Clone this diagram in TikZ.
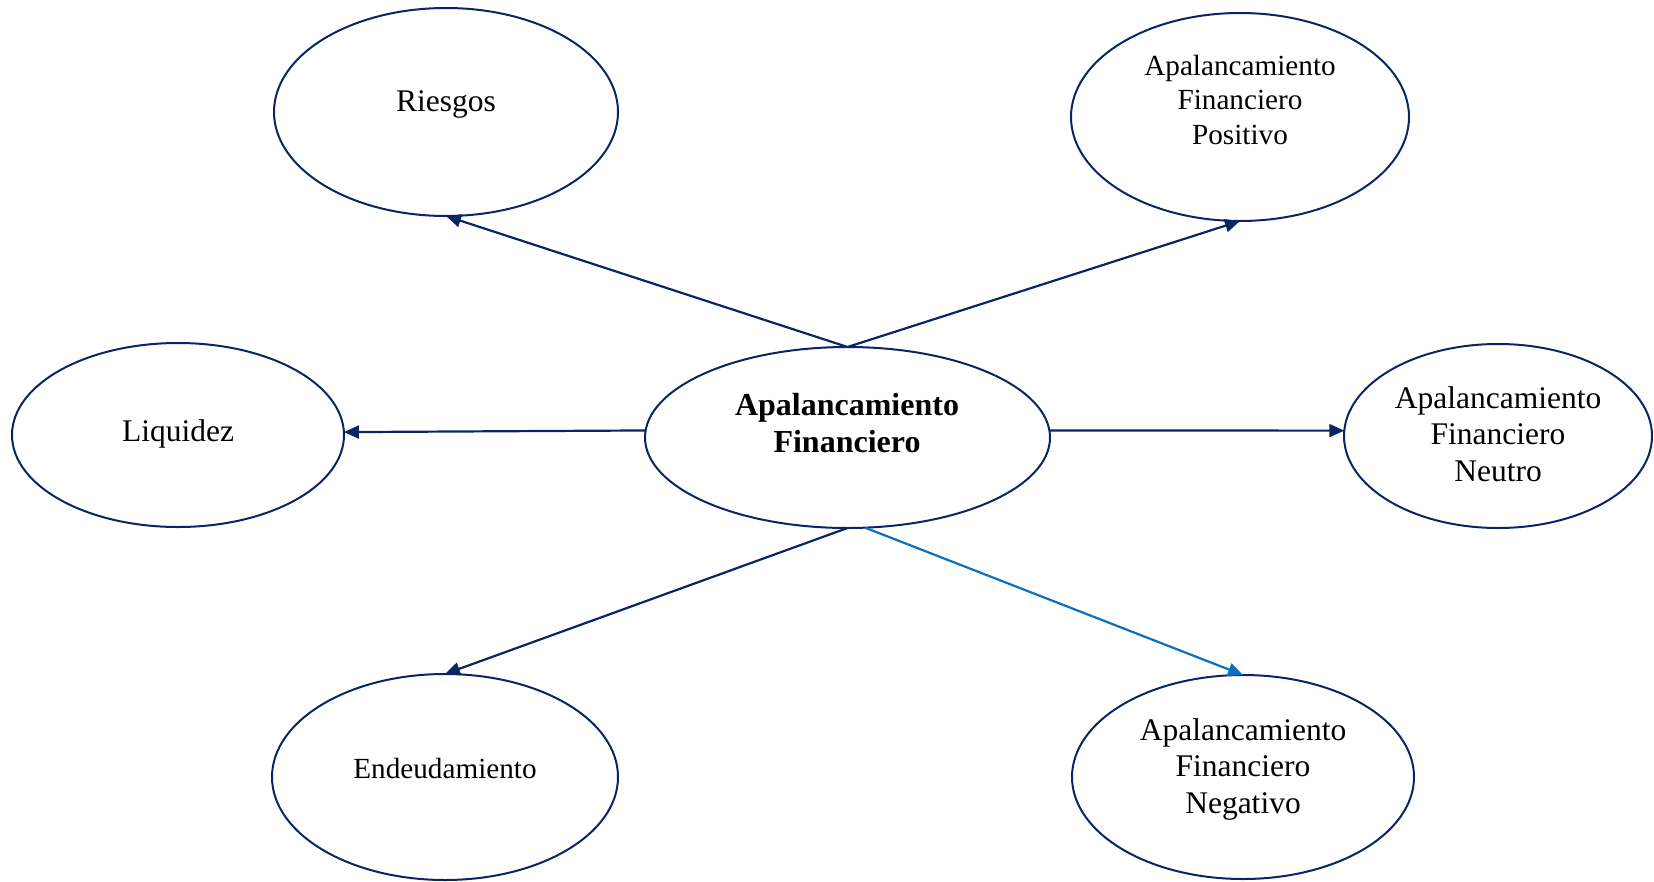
\documentclass[tikz,border=0pt]{standalone}
\usepackage{fontspec}
\setmainfont{Liberation Serif}
\usetikzlibrary{shapes.geometric,arrows.meta}
\definecolor{navy}{HTML}{0B2466}
\definecolor{skyline}{HTML}{0A70C0}
\tikzset{
  bubble/.style={ellipse, draw=navy, line width=2pt, inner sep=0pt, outer sep=0pt},
  labA/.style={align=center, inner sep=0pt, font=\fontsize{29.2}{34.5}\selectfont},
  labB/.style={align=center, inner sep=0pt, font=\fontsize{31.5}{36.5}\selectfont},
  labC/.style={align=center, inner sep=0pt, font=\fontsize{32}{37}\selectfont\bfseries},
  link/.style={draw=navy, line width=2.2pt, -{Triangle[length=15pt,width=13pt]}},
  linklight/.style={draw=skyline, line width=2.2pt, -{Triangle[length=15pt,width=13pt]}}
}
\begin{document}
\begin{tikzpicture}[x=1pt,y=-1pt]
\useasboundingbox (0,0) rectangle (1654,881);

% ellipses
\node[bubble, minimum width=405pt, minimum height=181pt] (center) at (847.5,437.5) {};
\node[bubble, minimum width=344pt, minimum height=208pt] (riesgos) at (446,112) {};
\node[bubble, minimum width=338pt, minimum height=208pt] (positivo) at (1240,117) {};
\node[bubble, minimum width=332pt, minimum height=184pt] (liquidez) at (178,435) {};
\node[bubble, minimum width=308pt, minimum height=184pt] (neutro) at (1498,436) {};
\node[bubble, minimum width=346pt, minimum height=206pt] (endeud) at (445,777) {};
\node[bubble, minimum width=342pt, minimum height=204pt] (negativo) at (1243,777) {};

% labels
\node[labC] (tcenter) at (847,423) {Apalancamiento\\Financiero};
\node[labB] (triesgos) at (446,104) {Riesgos};
\node[labA] (tpositivo) at (1240,100) {Apalancamiento\\Financiero\\Positivo};
\node[labB] (tliquidez) at (178,434) {Liquidez};
\node[labB] (tneutro) at (1498,434) {Apalancamiento\\Financiero\\Neutro};
\node[labA] (tendeud) at (445,769) {Endeudamiento};
\node[labB] (tnegativo) at (1243,769) {Apalancamiento\\Financiero\\Negativo};

% connectors
\draw[link] (center.north) -- (riesgos.south);
\draw[link] (center.north) -- (positivo.south);
\draw[link] (center.178) -- (liquidez.1);
\draw[link] (center.2) -- (neutro.178);
\draw[link] (center.south) -- (endeud.north);
\draw[linklight] (center.281) -- (negativo.north);
\end{tikzpicture}
\end{document}
